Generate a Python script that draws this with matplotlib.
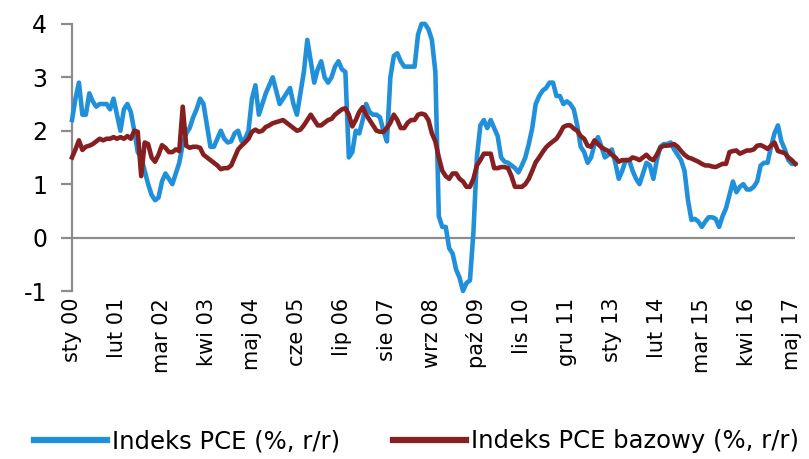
import numpy as np
import matplotlib.pyplot as plt

# miesięczne dane r/r, sty 2000 - cze 2017
pce = [
    2.2, 2.6, 2.9, 2.3, 2.3, 2.7, 2.55, 2.45, 2.5, 2.5, 2.5, 2.4,      # 2000
    2.6, 2.3, 2.0, 2.4, 2.5, 2.35, 2.0, 1.6, 1.5, 1.25, 1.0, 0.8,      # 2001
    0.7, 0.75, 1.05, 1.2, 1.1, 1.0, 1.2, 1.4, 1.75, 1.95, 2.05, 2.25,  # 2002
    2.4, 2.6, 2.5, 2.1, 1.7, 1.7, 1.85, 2.0, 1.85, 1.78, 1.8, 1.95,    # 2003
    2.0, 1.8, 1.85, 2.0, 2.6, 2.85, 2.3, 2.5, 2.7, 2.85, 3.0, 2.75,    # 2004
    2.5, 2.6, 2.7, 2.8, 2.5, 2.3, 2.7, 3.1, 3.7, 3.3, 2.9, 3.15,       # 2005
    3.3, 3.0, 2.9, 3.0, 3.2, 3.3, 3.15, 3.1, 1.5, 1.6, 2.0, 1.95,      # 2006
    2.2, 2.5, 2.35, 2.3, 2.3, 2.25, 2.0, 1.8, 3.0, 3.4, 3.45, 3.3,     # 2007
    3.2, 3.2, 3.2, 3.2, 3.8, 4.0, 4.0, 3.9, 3.7, 3.1, 0.4, 0.2,        # 2008
    0.2, -0.2, -0.3, -0.6, -0.75, -1.0, -0.85, -0.8, 0.1, 1.5, 2.1, 2.2,  # 2009
    2.05, 2.2, 2.05, 1.9, 1.5, 1.42, 1.4, 1.35, 1.3, 1.22, 1.35, 1.5,  # 2010
    1.75, 2.05, 2.5, 2.65, 2.75, 2.8, 2.9, 2.9, 2.65, 2.65, 2.5, 2.55, # 2011
    2.5, 2.4, 2.1, 1.7, 1.6, 1.4, 1.5, 1.75, 1.88, 1.7, 1.5, 1.55,     # 2012
    1.65, 1.4, 1.1, 1.25, 1.45, 1.45, 1.25, 1.1, 1.0, 1.2, 1.4, 1.35,  # 2013
    1.1, 1.45, 1.7, 1.75, 1.75, 1.78, 1.65, 1.55, 1.45, 1.25, 0.7, 0.33,  # 2014
    0.35, 0.3, 0.2, 0.3, 0.38, 0.38, 0.35, 0.2, 0.4, 0.55, 0.8, 1.05,  # 2015
    0.85, 0.95, 1.0, 0.9, 0.9, 0.95, 1.05, 1.35, 1.4, 1.4, 1.7, 1.95,  # 2016
    2.1, 1.8, 1.65, 1.45, 1.38, 1.38,                                  # 2017
]

pce_core = [
    1.5, 1.65, 1.82, 1.64, 1.7, 1.72, 1.75, 1.8, 1.85, 1.82, 1.85, 1.85,   # 2000
    1.88, 1.85, 1.88, 1.85, 1.9, 1.85, 2.0, 1.98, 1.15, 1.78, 1.75, 1.5,   # 2001
    1.42, 1.55, 1.73, 1.68, 1.6, 1.6, 1.65, 1.62, 2.45, 1.72, 1.68, 1.7,   # 2002
    1.7, 1.68, 1.55, 1.5, 1.45, 1.4, 1.35, 1.28, 1.3, 1.3, 1.35, 1.5,      # 2003
    1.65, 1.72, 1.78, 1.85, 1.98, 2.02, 1.98, 2.0, 2.07, 2.1, 2.14, 2.16,  # 2004
    2.18, 2.2, 2.15, 2.1, 2.05, 2.0, 2.02, 2.1, 2.2, 2.3, 2.2, 2.1,        # 2005
    2.1, 2.15, 2.2, 2.22, 2.3, 2.35, 2.4, 2.42, 2.3, 2.08, 2.2, 2.35,      # 2006
    2.44, 2.3, 2.2, 2.1, 2.0, 1.98, 1.98, 2.05, 2.15, 2.3, 2.2, 2.05,      # 2007
    2.05, 2.15, 2.2, 2.2, 2.3, 2.32, 2.3, 2.2, 1.95, 1.8, 1.5, 1.25,       # 2008
    1.15, 1.1, 1.2, 1.2, 1.1, 1.05, 0.95, 0.95, 1.1, 1.35, 1.45, 1.57,     # 2009
    1.57, 1.57, 1.3, 1.3, 1.32, 1.32, 1.3, 1.15, 0.95, 0.95, 0.95, 1.0,    # 2010
    1.1, 1.25, 1.41, 1.5, 1.6, 1.69, 1.75, 1.8, 1.85, 1.95, 2.07, 2.1,     # 2011
    2.1, 2.04, 2.0, 1.9, 1.85, 1.72, 1.7, 1.82, 1.75, 1.69, 1.65, 1.62,    # 2012
    1.55, 1.5, 1.42, 1.45, 1.45, 1.45, 1.5, 1.48, 1.45, 1.5, 1.55, 1.48,   # 2013
    1.45, 1.55, 1.68, 1.72, 1.72, 1.73, 1.75, 1.7, 1.62, 1.55, 1.5, 1.48,  # 2014
    1.45, 1.42, 1.38, 1.35, 1.35, 1.33, 1.32, 1.35, 1.38, 1.38, 1.6, 1.62, # 2015
    1.63, 1.57, 1.6, 1.63, 1.63, 1.65, 1.72, 1.73, 1.7, 1.66, 1.72, 1.78,  # 2016
    1.62, 1.6, 1.58, 1.5, 1.45, 1.38,                                      # 2017
]

tick_labels = ['sty 00', 'lut 01', 'mar 02', 'kwi 03', 'maj 04', 'cze 05',
               'lip 06', 'sie 07', 'wrz 08', 'paź 09', 'lis 10', 'gru 11',
               'sty 13', 'lut 14', 'mar 15', 'kwi 16', 'maj 17']
tick_step = 13

blue = '#2190DB'
red = '#862020'
gray = '#8C8C8C'

plt.rcParams['font.family'] = 'DejaVu Sans'

months = np.arange(len(pce))

fig = plt.figure(figsize=(8.09, 4.59), dpi=100)
ax = fig.add_axes([0.089, 0.366, 0.894, 0.582])

ax.plot(months, pce, color=blue, linewidth=3.3, label='Indeks PCE (%, r/r)',
        solid_joinstyle='round', clip_on=False, zorder=3)
ax.plot(months, pce_core, color=red, linewidth=3.3, label='Indeks PCE bazowy (%, r/r)',
        solid_joinstyle='round', clip_on=False, zorder=4)

ax.set_xlim(0, len(pce) - 1)
ax.set_ylim(-1, 4)
ax.set_yticks(range(-1, 5))
ax.set_yticklabels([str(v) for v in range(-1, 5)])

ax.axhline(0, color=gray, linewidth=1.6, zorder=2)

for s in ['top', 'right', 'bottom']:
    ax.spines[s].set_visible(False)
ax.spines['left'].set_color(gray)
ax.spines['left'].set_linewidth(1.6)

ax.tick_params(axis='y', length=8, width=1.6, color=gray, pad=10, labelsize=17)
ax.set_xticks(np.arange(len(tick_labels)) * tick_step)
ax.set_xticklabels(tick_labels, rotation=90, fontsize=15)
ax.tick_params(axis='x', length=0, pad=5)

# legenda pod wykresem
leg = fig.legend(loc='lower center', bbox_to_anchor=(0.515, -0.035), ncol=2, frameon=False,
                 fontsize=17.5, handlelength=3.0, handletextpad=0.2, columnspacing=2.2)
for line in leg.get_lines():
    line.set_linewidth(4.5)

fig.savefig('out.png', dpi=100)
